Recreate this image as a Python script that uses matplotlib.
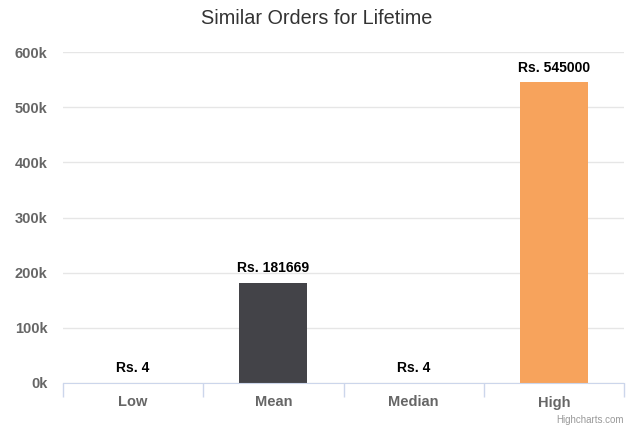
import matplotlib
matplotlib.use("Agg")
import matplotlib.pyplot as plt
from matplotlib.ticker import FuncFormatter

plt.rcParams['font.family'] = ['Liberation Sans', 'DejaVu Sans']

categories = ["Low", "Mean", "Median", "High"]
values = [4, 181669, 4, 545000]
colors = ["#7cb5ec", "#434348", "#90ed7d", "#f7a35c"]
yticks = [0, 100000, 200000, 300000, 400000, 500000, 600000]

fig = plt.figure(figsize=(6.34, 4.28), dpi=100)
ax = fig.add_axes([63 / 634, 45 / 428, 561 / 634, 331 / 428])

x = list(range(len(categories)))
ax.bar(x, values, width=0.485, color=colors, zorder=3)

for xi, v in zip(x, values):
    ax.text(xi, v + 14000, f"Rs. {v}", ha="center", va="bottom",
            fontsize=10, fontweight="bold", color="#000000", zorder=4)

ax.set_xlim(-0.5, len(categories) - 0.5)
ax.set_ylim(0, 600000)
ax.set_yticks(yticks)
ax.yaxis.set_major_formatter(FuncFormatter(lambda v, p: f"{int(v / 1000)}k"))
ax.grid(axis="y", color="#e6e6e6", linewidth=1, zorder=0)
ax.tick_params(axis="y", length=0, pad=11, labelsize=10.5, labelcolor="#666666")
for lbl in ax.get_yticklabels():
    lbl.set_fontweight("bold")

# category labels and boundary ticks
ax.set_xticks(x)
ax.set_xticklabels(categories, fontsize=10.5, fontweight="bold", color="#666666")
ax.set_xticks([i - 0.5 for i in range(len(categories) + 1)], minor=True)
ax.tick_params(axis="x", which="major", length=0, pad=9)
ax.tick_params(axis="x", which="minor", length=10, color="#ccd6eb", width=1)

for s in ["top", "right", "left"]:
    ax.spines[s].set_visible(False)
ax.spines["bottom"].set_color("#ccd6eb")
ax.spines["bottom"].set_zorder(5)

fig.text(0.5, 1 - 19 / 428, "Similar Orders for Lifetime", ha="center", va="center",
         fontsize=14.3, color="#333333")
fig.text(624 / 634, 1 - 420 / 428, "Highcharts.com", ha="right", va="center",
         fontsize=7, color="#999999")

fig.savefig("out.png", dpi=100)
